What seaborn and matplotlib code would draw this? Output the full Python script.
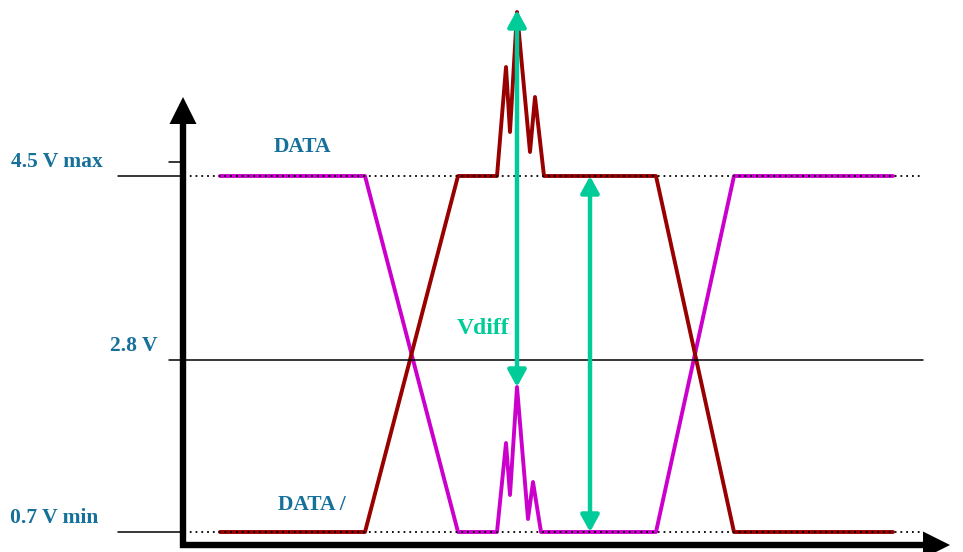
import matplotlib
matplotlib.use("Agg")
import matplotlib.pyplot as plt
import numpy as np
import pandas as pd
import seaborn as sns

# waveform points (time units, level units; level axis grows downward like the slide)
data_t = [220, 365, 458, 497, 506, 510, 517, 528, 533, 541, 656, 734, 893]
data_v = [176, 176, 532, 532, 443, 495, 387, 519, 482, 532, 532, 176, 176]
datan_t = [220, 365, 458, 497, 506, 510, 517, 530, 535, 544, 656, 734, 893]
datan_v = [532, 532, 176, 176, 67, 132, 12, 152, 97, 176, 176, 532, 532]

# reference levels
level_names = ["4.5 V max", "2.8 V", "0.7 V min"]
level_pos = [176, 360, 532]
level_style = [":", "-", ":"]
level_label_right = [103, 157, 98]

# Vdiff arrows (x, from, to)
vdiff_x = [517, 590]
vdiff_top = [10, 176]
vdiff_bottom = [387, 532]

MAGENTA = "#CC00CC"
DARKRED = "#990000"
GREEN = "#00CC99"
BLUE = "#16709A"

sns.set_theme(style="white")
plt.rcParams["font.family"] = ["Liberation Serif", "DejaVu Serif"]

df = pd.concat([
    pd.DataFrame({"t": data_t, "v": data_v, "signal": "DATA"}),
    pd.DataFrame({"t": datan_t, "v": datan_v, "signal": "DATA /"}),
])

fig = plt.figure(figsize=(9.63, 5.52), dpi=100)
ax = fig.add_axes([0, 0, 1, 1])
ax.set_xlim(0, 963)
ax.set_ylim(552, 0)
ax.axis("off")

sns.lineplot(data=df, x="t", y="v", hue="signal", sort=False, estimator=None,
             palette={"DATA": MAGENTA, "DATA /": DARKRED}, linewidth=2.8,
             legend=False, ax=ax, zorder=3)

# reference lines: solid stub left of the axis, then dotted/solid across
for name, y, ls, xr in zip(level_names, level_pos, level_style, level_label_right):
    x0 = 118 if ls == ":" else 169
    ax.plot([x0, 184], [y, y], color="black", lw=1.1, zorder=4)
    ax.plot([184, 923], [y, y], color="black", lw=1.1 if ls == "-" else 1.3,
            linestyle=ls if ls == "-" else (0, (1, 2.2)), zorder=4)
    ax.text(xr, y - 9, name, ha="right", va="baseline", fontsize=15.5,
            fontweight="bold", color=BLUE)

# small tick above the 4.5 V line
ax.plot([169, 182], [162, 162], color="black", lw=1.1, zorder=4)

# axes arrows
axis_style = "-|>,head_length=12,head_width=6"
ax.annotate("", xy=(183, 97), xytext=(183, 548),
            arrowprops=dict(arrowstyle=axis_style, lw=4.6, color="black",
                            shrinkA=0, shrinkB=0, mutation_scale=1,
                            joinstyle="miter", capstyle="butt"), zorder=5)
ax.annotate("", xy=(950, 545), xytext=(180, 545),
            arrowprops=dict(arrowstyle=axis_style, lw=4.6, color="black",
                            shrinkA=0, shrinkB=0, mutation_scale=1,
                            joinstyle="miter", capstyle="butt"), zorder=5)

# Vdiff double arrows
for x, y0, y1 in zip(vdiff_x, vdiff_top, vdiff_bottom):
    ax.annotate("", xy=(x, y0), xytext=(x, y1),
                arrowprops=dict(arrowstyle="<|-|>,head_length=10,head_width=5.5",
                                lw=3.2, color=GREEN, shrinkA=0, shrinkB=0,
                                mutation_scale=1), zorder=6)

ax.text(457, 334, "Vdiff", ha="left", va="baseline", fontsize=17,
        fontweight="bold", color=GREEN)
ax.text(274, 152, "DATA", ha="left", va="baseline", fontsize=15.5,
        fontweight="bold", color=BLUE)
ax.text(278, 510, "DATA /", ha="left", va="baseline", fontsize=15.5,
        fontweight="bold", color=BLUE)

fig.savefig("out.png", dpi=100)
